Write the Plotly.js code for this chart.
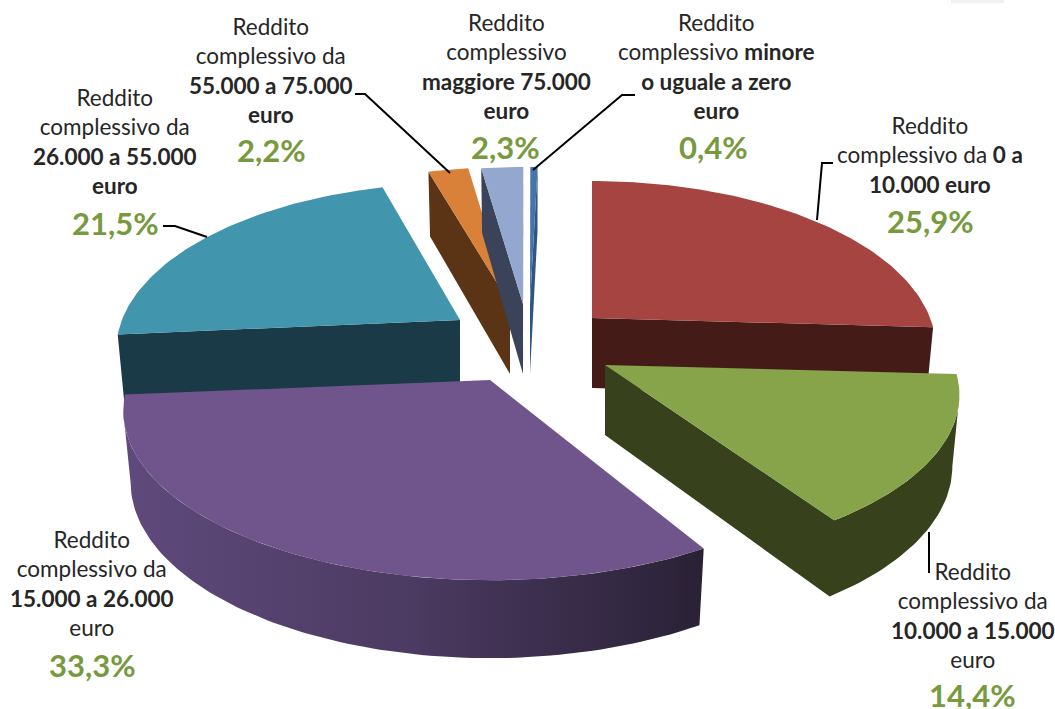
<!DOCTYPE html>
<html><head><meta charset="utf-8">
<script src="https://cdn.plot.ly/plotly-3.0.1.min.js"></script>
<style>html,body{margin:0;padding:0;background:#fff}</style></head>
<body><div id="chart" style="width:1055px;height:709px"></div>
<script>
// Data: start at 12 o'clock, clockwise
var categories = ["Reddito complessivo da 0 a 10.000 euro","Reddito complessivo da 10.000 a 15.000 euro","Reddito complessivo da 15.000 a 26.000 euro","Reddito complessivo da 26.000 a 55.000 euro","Reddito complessivo da 55.000 a 75.000 euro","Reddito complessivo maggiore 75.000 euro","Reddito complessivo minore o uguale a zero euro"];
var values = [25.9,14.4,33.3,21.5,2.2,2.3,0.4];
var percentText = ["25,9%","14,4%","33,3%","21,5%","2,2%","2,3%","0,4%"];
var labelText = [
 "Reddito<br>complessivo da <b>0 a</b><br><b>10.000 euro</b>",
 "Reddito<br>complessivo da<br><b>10.000 a 15.000</b><br>euro",
 "Reddito<br>complessivo da<br><b>15.000 a 26.000</b><br>euro",
 "Reddito<br>complessivo da<br><b>26.000 a 55.000</b><br><b>euro</b>",
 "Reddito<br>complessivo da<br><b>55.000 a 75.000</b><br><b>euro</b>",
 "Reddito<br>complessivo<br><b>maggiore 75.000</b><br><b>euro</b>",
 "Reddito<br>complessivo <b>minore</b><br><b>o uguale a zero</b><br><b>euro</b>"];

// Styling / placement
var topColors  = ["#a64441","#87a44b","#70558c","#4195ac","#d98039","#94a7cf","#4374aa"];
var wallColors = ["#451b18","#37421c","#2b2238","#193a46","#5a3415","#3a4359","#2f5582"];
var apexX = [592,605,490,460,510,523,530];
var apexY = [318,365,380,320,304,304,304];
var scaleX = [0.98,1.01,1.045,0.98,1,1,1];
var scaleY = [1,0.98,1.01,1,1,1,1];
var startAdj = [0,0,5,0,1.5,1.5,1.5];   // degrees: small correction for the picture's 3D rotation
var endAdj   = [0,1,0,2,1.5,1.5,1.5];
var labelX = [930,973,92,115,271,506,716], labelY=[155,615,583,141,70,66,66];
var pctX   = [930,972,92,115,271,505,713], pctY=[221,695,665,223,150,147,147];
var RX=345, RY=162, K=0.183, DEPTH=70, SHRINK=0.98;
var GREEN="#769a3d";

var traces=[], order=[3,4,5,6,0,1,2];
function poly(pts,color,grad){
  var t={x:pts.map(function(p){return p[0]}),y:pts.map(function(p){return p[1]}),
    mode:"lines",fill:"toself",fillcolor:color,line:{width:0,color:color},
    hoverinfo:"skip",showlegend:false,type:"scatter"};
  if(grad) t.fillgradient={type:"horizontal",colorscale:grad};
  traces.push(t);
}
var cum=[],acc=0;
values.forEach(function(v){cum.push(acc);acc+=v;});
order.forEach(function(i){
  var a0=(cum[i]/100*360+startAdj[i])*Math.PI/180,a1=((cum[i]+values[i])/100*360+endAdj[i])*Math.PI/180;
  var n=Math.max(4,Math.round(values[i]*3)),j;
  function top(q){
    if(q===null) return [apexX[i],apexY[i]];
    var u=Math.sin(q),v=-Math.cos(q),s=1/(1-K*v);
    return [apexX[i]+RX*scaleX[i]*u*s,apexY[i]+RY*scaleY[i]*v*s];
  }
  function low(q){
    var p=top(q),v=q===null?0:-Math.cos(q),s=1/(1-K*v);
    return [apexX[i]+(p[0]-apexX[i])*SHRINK,p[1]+DEPTH*(1+(s-1)*0.5)];
  }
  var ring=[null];
  for(j=0;j<=n;j++) ring.push(a0+(a1-a0)*j/n);
  ring.push(null);
  var grad=i===2?[[0,"#5f4a7c"],[0.5,"#4b3a61"],[1,"#2a2136"]]:null;
  var run=[];
  function flush(){
    if(run.length>1) poly(run.map(top).concat(run.map(low).reverse()),wallColors[i],grad);
    run=[];
  }
  for(j=0;j<ring.length-1;j++){
    if(top(ring[j+1])[0]-top(ring[j])[0]<0){ if(!run.length) run.push(ring[j]); run.push(ring[j+1]); }
    else flush();
  }
  flush();
  poly(ring.map(top),topColors[i]);
});

var annotations=[];
values.forEach(function(v,i){
  annotations.push({x:labelX[i],y:labelY[i],text:labelText[i],showarrow:false,xanchor:"center",yanchor:"middle",
    font:{family:"Lato, sans-serif",size:22.5,color:"#262626"}});
  annotations.push({x:pctX[i],y:pctY[i],text:"<b>"+percentText[i]+"</b>",showarrow:false,xanchor:"center",yanchor:"middle",
    font:{family:"Lato, sans-serif",size:31,color:GREEN}});
});
var leaders=["M355,94 L365,94 L450,173","M635,95 L622,95 L533,170","M833,163 L822,163 L817,220","M163,226 L175,226 L207,237","M929,532 L929,573"];
var shapes=leaders.map(function(d){return {type:"path",path:d,line:{color:"#000",width:2},layer:"above"}});
shapes.push({type:"rect",x0:951,x1:1004,y0:0,y1:3,fillcolor:"#f0f0f0",line:{width:0},layer:"below"});

Plotly.newPlot("chart",traces,{
  width:1055,height:709,margin:{l:0,r:0,t:0,b:0},paper_bgcolor:"#fff",plot_bgcolor:"#fff",showlegend:false,
  xaxis:{range:[0,1055],visible:false,fixedrange:true},
  yaxis:{range:[709,0],visible:false,fixedrange:true},
  annotations:annotations,shapes:shapes
},{staticPlot:true,displayModeBar:false});
</script></body></html>
